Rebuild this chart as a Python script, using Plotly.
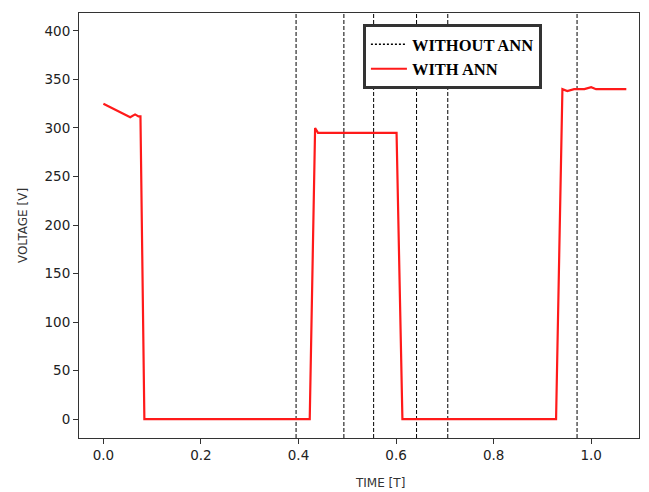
import plotly.graph_objects as go

# Data
t_with_ann = [0.0, 0.055, 0.065, 0.072, 0.076, 0.084, 0.423, 0.434, 0.44, 0.601, 0.613,
              0.928, 0.941, 0.951, 0.965, 0.986, 1.0, 1.01, 1.072]
v_with_ann = [325, 311, 314, 312, 312, 0, 0, 300, 295, 295, 0,
              0, 340, 338, 340, 340, 342, 340, 340]
t_without_ann = [0.395, 0.493, 0.554, 0.642, 0.706, 0.971]
x_ticks = [0.0, 0.2, 0.4, 0.6, 0.8, 1.0]
y_ticks = [0, 50, 100, 150, 200, 250, 300, 350, 400]

fig = go.Figure()

# legend-only entry for the dotted "WITHOUT ANN" sample
fig.add_trace(go.Scatter(x=[None], y=[None], mode="lines", name="<b>WITHOUT ANN</b>",
                         line=dict(color="black", width=1.5, dash="2px,2px")))
fig.add_trace(go.Scatter(x=t_with_ann, y=v_with_ann, mode="lines", name="<b>WITH ANN</b>",
                         line=dict(color="#ff1a1a", width=2.2)))

for t in t_without_ann:
    fig.add_vline(x=t, line=dict(color="black", width=1, dash="4px,2px"), layer="below")

axis_common = dict(showline=True, linecolor="#333", linewidth=1, mirror=True,
                   ticks="outside", ticklen=5, tickcolor="#333", showgrid=False,
                   zeroline=False, tickfont=dict(family="DejaVu Sans", size=13.5, color="#222"))

fig.update_layout(
    width=649, height=492,
    margin=dict(l=79, r=10, t=13, b=54),
    paper_bgcolor="white", plot_bgcolor="white",
    showlegend=True,
    legend=dict(x=0.507, y=0.974, xanchor="left", yanchor="top",
                bgcolor="white", bordercolor="#333", borderwidth=3,
                font=dict(family="Liberation Serif", size=16.5, color="black"),
                tracegroupgap=0, itemwidth=36),
    xaxis=dict(range=[-0.05, 1.098], tickvals=x_ticks,
               ticktext=[f"{v:.1f}" for v in x_ticks],
               **axis_common),
    yaxis=dict(range=[-19.5, 418.5], tickvals=y_ticks,
               title=dict(text="VOLTAGE [V]", font=dict(family="DejaVu Sans", size=12, color="#333"),
                          standoff=14),
               **axis_common),
    annotations=[dict(text="TIME [T]", xref="paper", yref="paper", x=0.5375, y=-0.105,
                      xanchor="center", yanchor="middle", showarrow=False,
                      font=dict(family="DejaVu Sans", size=12, color="#333"))],
)

fig.write_html("out.html")
